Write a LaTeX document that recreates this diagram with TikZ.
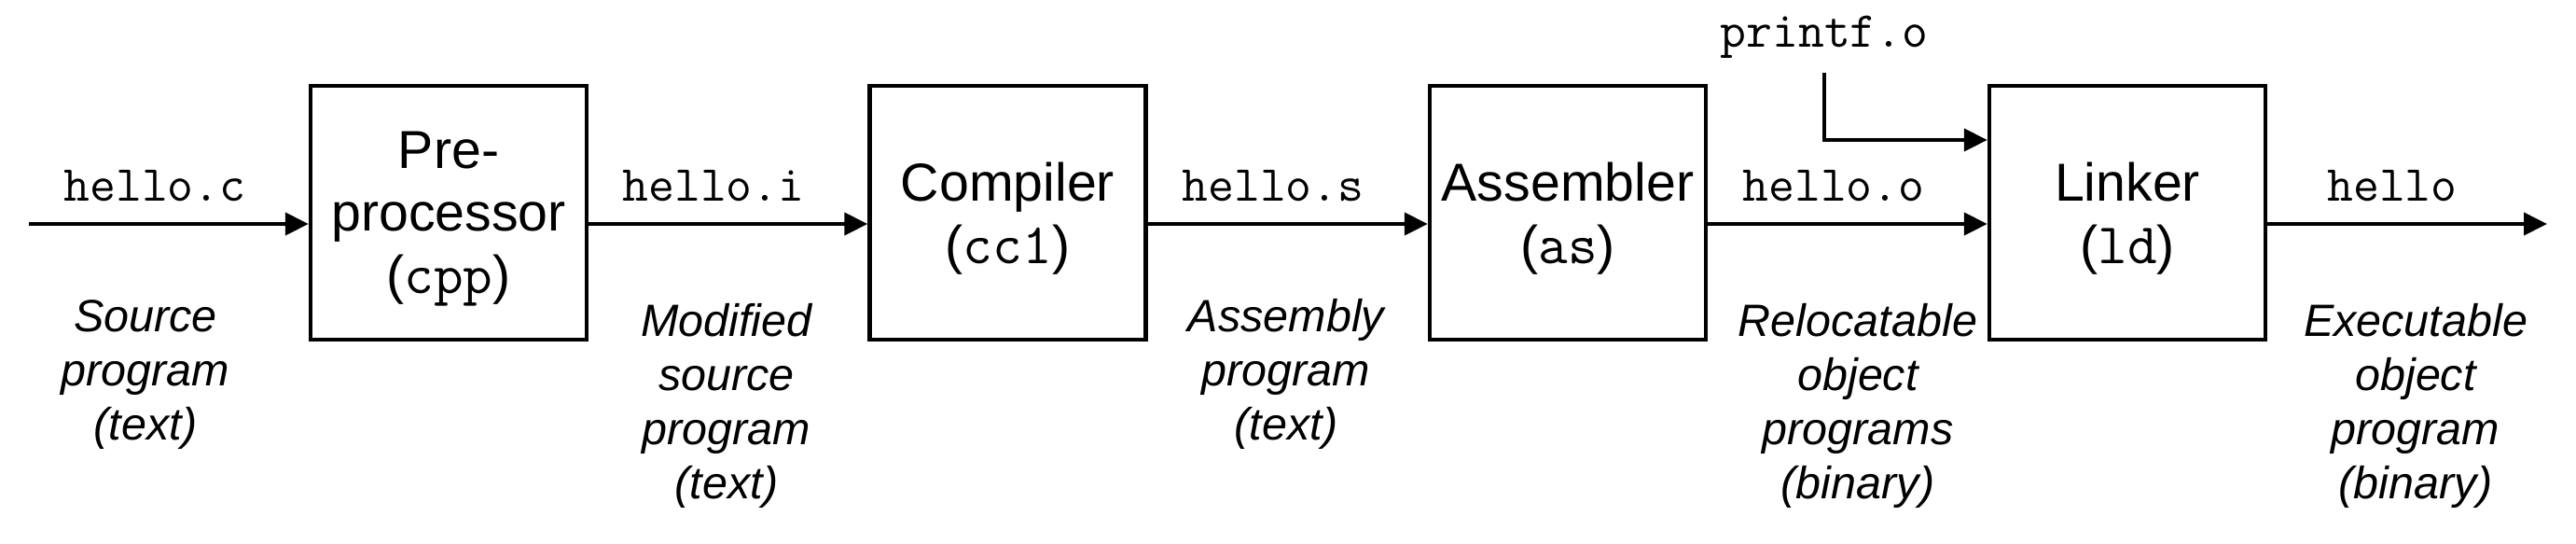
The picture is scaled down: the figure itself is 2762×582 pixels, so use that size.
\documentclass[tikz,border=0pt]{standalone}
\usepackage{fontspec}
\setmainfont{Liberation Sans}
\newcommand\monofam{\ttfamily}
\usetikzlibrary{arrows.meta}
\begin{document}
\begin{tikzpicture}[x=0.1mm,y=-0.1mm,
  stage/.style={draw, line width=0.44mm, minimum width=29.6mm, minimum height=27.2mm, inner sep=0},
  stagetext/.style={align=center, anchor=base, inner sep=0, font=\fontsize{16.3}{19.06}\selectfont},
  file/.style={anchor=base, inner sep=0, font=\fontsize{15.4}{16.5}\selectfont\monofam},
  desc/.style={align=center, anchor=base, inner sep=0, font=\fontsize{13.8}{16.5}\selectfont\itshape},
  flow/.style={line width=0.38mm, -{Triangle[length=2.5mm,width=2.4mm]}}]
\useasboundingbox (0,0) rectangle (2762,582);

% stages
\node[stage] (cpp) at (481,228) {};
\node[stage] (cc1) at (1080.5,228) {};
\node[stage] (as)  at (1681,228) {};
\node[stage] (ld)  at (2281,228) {};

% stage texts (base = baseline of last line)
\node[stagetext] (cpptext) at (481,314) {Pre-\\processor\\({\fontsize{17.5}{19.06}\selectfont\monofam cpp})};
\node[stagetext] (cc1text) at (1080.5,282) {Compiler\\({\fontsize{17.5}{19.06}\selectfont\monofam cc1})};
\node[stagetext] (astext)  at (1681,282) {Assembler\\({\fontsize{17.5}{19.06}\selectfont\monofam as})};
\node[stagetext] (ldtext)  at (2281,282) {Linker\\({\fontsize{17.5}{19.06}\selectfont\monofam ld})};

% file names
\node[file] (hc) at (166,215) {hello.c};
\node[file] (hi) at (765,215) {hello.i};
\node[file] (hs) at (1365,215) {hello.s};
\node[file] (ho) at (1966,215) {hello.o};
\node[file] (pf) at (1956,50) {printf.o};
\node[file] (h)  at (2565,215) {hello};

% descriptions
\node[desc] (d1) at (156,471) {Source\\program\\(text)};
\node[desc] (d2) at (779,534) {Modified\\source\\program\\(text)};
\node[desc] (d3) at (1379,471) {Assembly\\program\\(text)};
\node[desc] (d4) at (1992,534) {Relocatable\\object\\programs\\(binary)};
\node[desc] (d5) at (2590,534) {Executable\\object\\program\\(binary)};

% connectors
\coordinate (in) at (31,240);
\coordinate (out) at (2731,240);
\coordinate (pfy) at (0,150);
\draw[flow] (in) -- (in -| cpp.west);
\draw[flow] (cpp.east |- in) -- (in -| cc1.west);
\draw[flow] (cc1.east |- in) -- (in -| as.west);
\draw[flow] (as.east |- in) -- (in -| ld.west);
\draw[flow] (ld.east |- in) -- (out);
\draw[flow, shorten <=1.5mm] (pf.south) |- (ld.west |- pfy);
\end{tikzpicture}
\end{document}
